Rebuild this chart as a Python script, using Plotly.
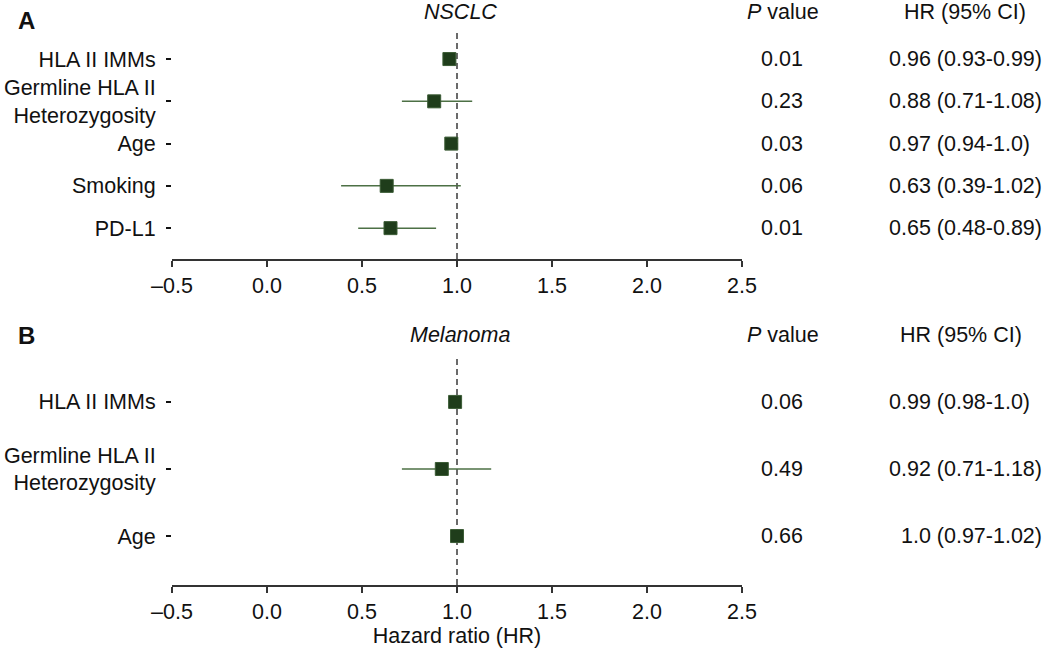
import plotly.graph_objects as go

# ---- data ----
labels_a = ["HLA II IMMs", "Germline HLA II<br>Heterozygosity", "Age", "Smoking", "PD-L1"]
hr_a = [0.96, 0.88, 0.97, 0.63, 0.65]
lo_a = [0.93, 0.71, 0.94, 0.39, 0.48]
hi_a = [0.99, 1.08, 1.0, 1.02, 0.89]
p_a = ["0.01", "0.23", "0.03", "0.06", "0.01"]
ci_a = ["0.96 (0.93-0.99)", "0.88 (0.71-1.08)", "0.97 (0.94-1.0)", "0.63 (0.39-1.02)", "0.65 (0.48-0.89)"]

labels_b = ["HLA II IMMs", "Germline HLA II<br>Heterozygosity", "Age"]
hr_b = [0.99, 0.92, 1.0]
lo_b = [0.98, 0.71, 0.97]
hi_b = [1.0, 1.18, 1.02]
p_b = ["0.06", "0.49", "0.66"]
ci_b = ["0.99 (0.98-1.0)", "0.92 (0.71-1.18)", "\u20071.0 (0.97-1.02)"]

x_ticks = [-0.5, 0.0, 0.5, 1.0, 1.5, 2.0, 2.5]
x_ticktext = ["\u20130.5", "0.0", "0.5", "1.0", "1.5", "2.0", "2.5"]

FONT = "Liberation Sans, Arial, Helvetica, sans-serif"
FS = 21.5
MARK = "#1f3d1b"
BAR = "#4d7045"
W, H = 1050, 648

def py(px):
    return 1 - px / H

def pxx(px):
    return px / W

fig = go.Figure()

def add_panel(labels, hr, lo, hi, xa, ya):
    n = len(labels)
    fig.add_trace(go.Scatter(
        x=hr, y=list(range(n)), mode="markers",
        xaxis=xa, yaxis=ya,
        marker=dict(symbol="square", size=13, color=MARK, line=dict(color="#3b5c35", width=1)),
        error_x=dict(type="data", symmetric=False,
                     array=[h - m for h, m in zip(hi, hr)],
                     arrayminus=[m - l for m, l in zip(hr, lo)],
                     width=0, thickness=1.5, color=BAR),
        showlegend=False, hoverinfo="x+y",
    ))

add_panel(labels_a, hr_a, lo_a, hi_a, "x", "y")
add_panel(labels_b, hr_b, lo_b, hi_b, "x2", "y2")

xdom = [pxx(172), pxx(742)]
xcommon = dict(range=[-0.5, 2.5], tickvals=x_ticks, ticktext=x_ticktext,
               showline=True, linecolor="#333333", linewidth=1.5,
               ticks="outside", ticklen=6, tickwidth=1.5, tickcolor="#333333",
               showgrid=False, zeroline=False, automargin=False,
               tickfont=dict(family=FONT, size=FS, color="#111111"))
ycommon = dict(showline=False, showgrid=False, zeroline=False, automargin=False,
               ticks="outside", ticklen=5, tickwidth=1.5, tickcolor="#111111",
               ticklabelstandoff=6,
               tickfont=dict(family=FONT, size=FS, color="#111111"))

fig.update_layout(
    width=W, height=H, margin=dict(l=0, r=0, t=0, b=0),
    paper_bgcolor="white", plot_bgcolor="white",
    font=dict(family=FONT, size=FS, color="#111111"),
    xaxis=dict(domain=xdom, anchor="y", **xcommon),
    yaxis=dict(domain=[py(259), py(32)], anchor="x", range=[4.73, -0.64],
               tickvals=list(range(len(labels_a))), ticktext=labels_a, **ycommon),
    xaxis2=dict(domain=xdom, anchor="y2", **xcommon,
                title=dict(text="Hazard ratio (HR)", standoff=4,
                           font=dict(family=FONT, size=FS, color="#111111"))),
    yaxis2=dict(domain=[py(585), py(357)], anchor="x2", range=[2.73, -0.67],
                tickvals=list(range(len(labels_b))), ticktext=labels_b, **ycommon),
)

# reference lines at HR = 1
for xr, yr in [("x", "y domain"), ("x2", "y2 domain")]:
    fig.add_shape(type="line", xref=xr, yref=yr, x0=1.0, x1=1.0, y0=0, y1=1,
                  line=dict(color="#3a3a3a", width=1.5, dash="6px,4px"), layer="below")

ann = []
def txt(x, y, text, xanchor="center", yref="paper", size=FS, **kw):
    ann.append(dict(x=x, y=y, xref="paper", yref=yref, text=text, showarrow=False,
                    xanchor=xanchor, yanchor="middle",
                    font=dict(family=FONT, size=size, color="#111111"), **kw))

# panel letters, titles, headers
txt(pxx(16), py(20), "<b>A</b>", xanchor="left", size=24)
txt(pxx(16), py(335), "<b>B</b>", xanchor="left", size=24)
txt(pxx(460), py(12), "<i>NSCLC</i>")
txt(pxx(460), py(335), "<i>Melanoma</i>")
for yy, hrx in [(12, 965), (335, 961)]:
    txt(pxx(783), py(yy), "<i>P</i> value")
    txt(pxx(hrx), py(yy), "HR (95% CI)")

# columns
for i, (p, c) in enumerate(zip(p_a, ci_a)):
    txt(pxx(782), i, p, yref="y")
    txt(pxx(887), i, c, xanchor="left", yref="y")
for i, (p, c) in enumerate(zip(p_b, ci_b)):
    txt(pxx(782), i, p, yref="y2")
    txt(pxx(887), i, c, xanchor="left", yref="y2")

fig.update_layout(annotations=ann)
fig.write_html("out.html", config={"displayModeBar": False},
               post_script="document.body.style.margin='0';document.body.style.overflow='hidden';")
